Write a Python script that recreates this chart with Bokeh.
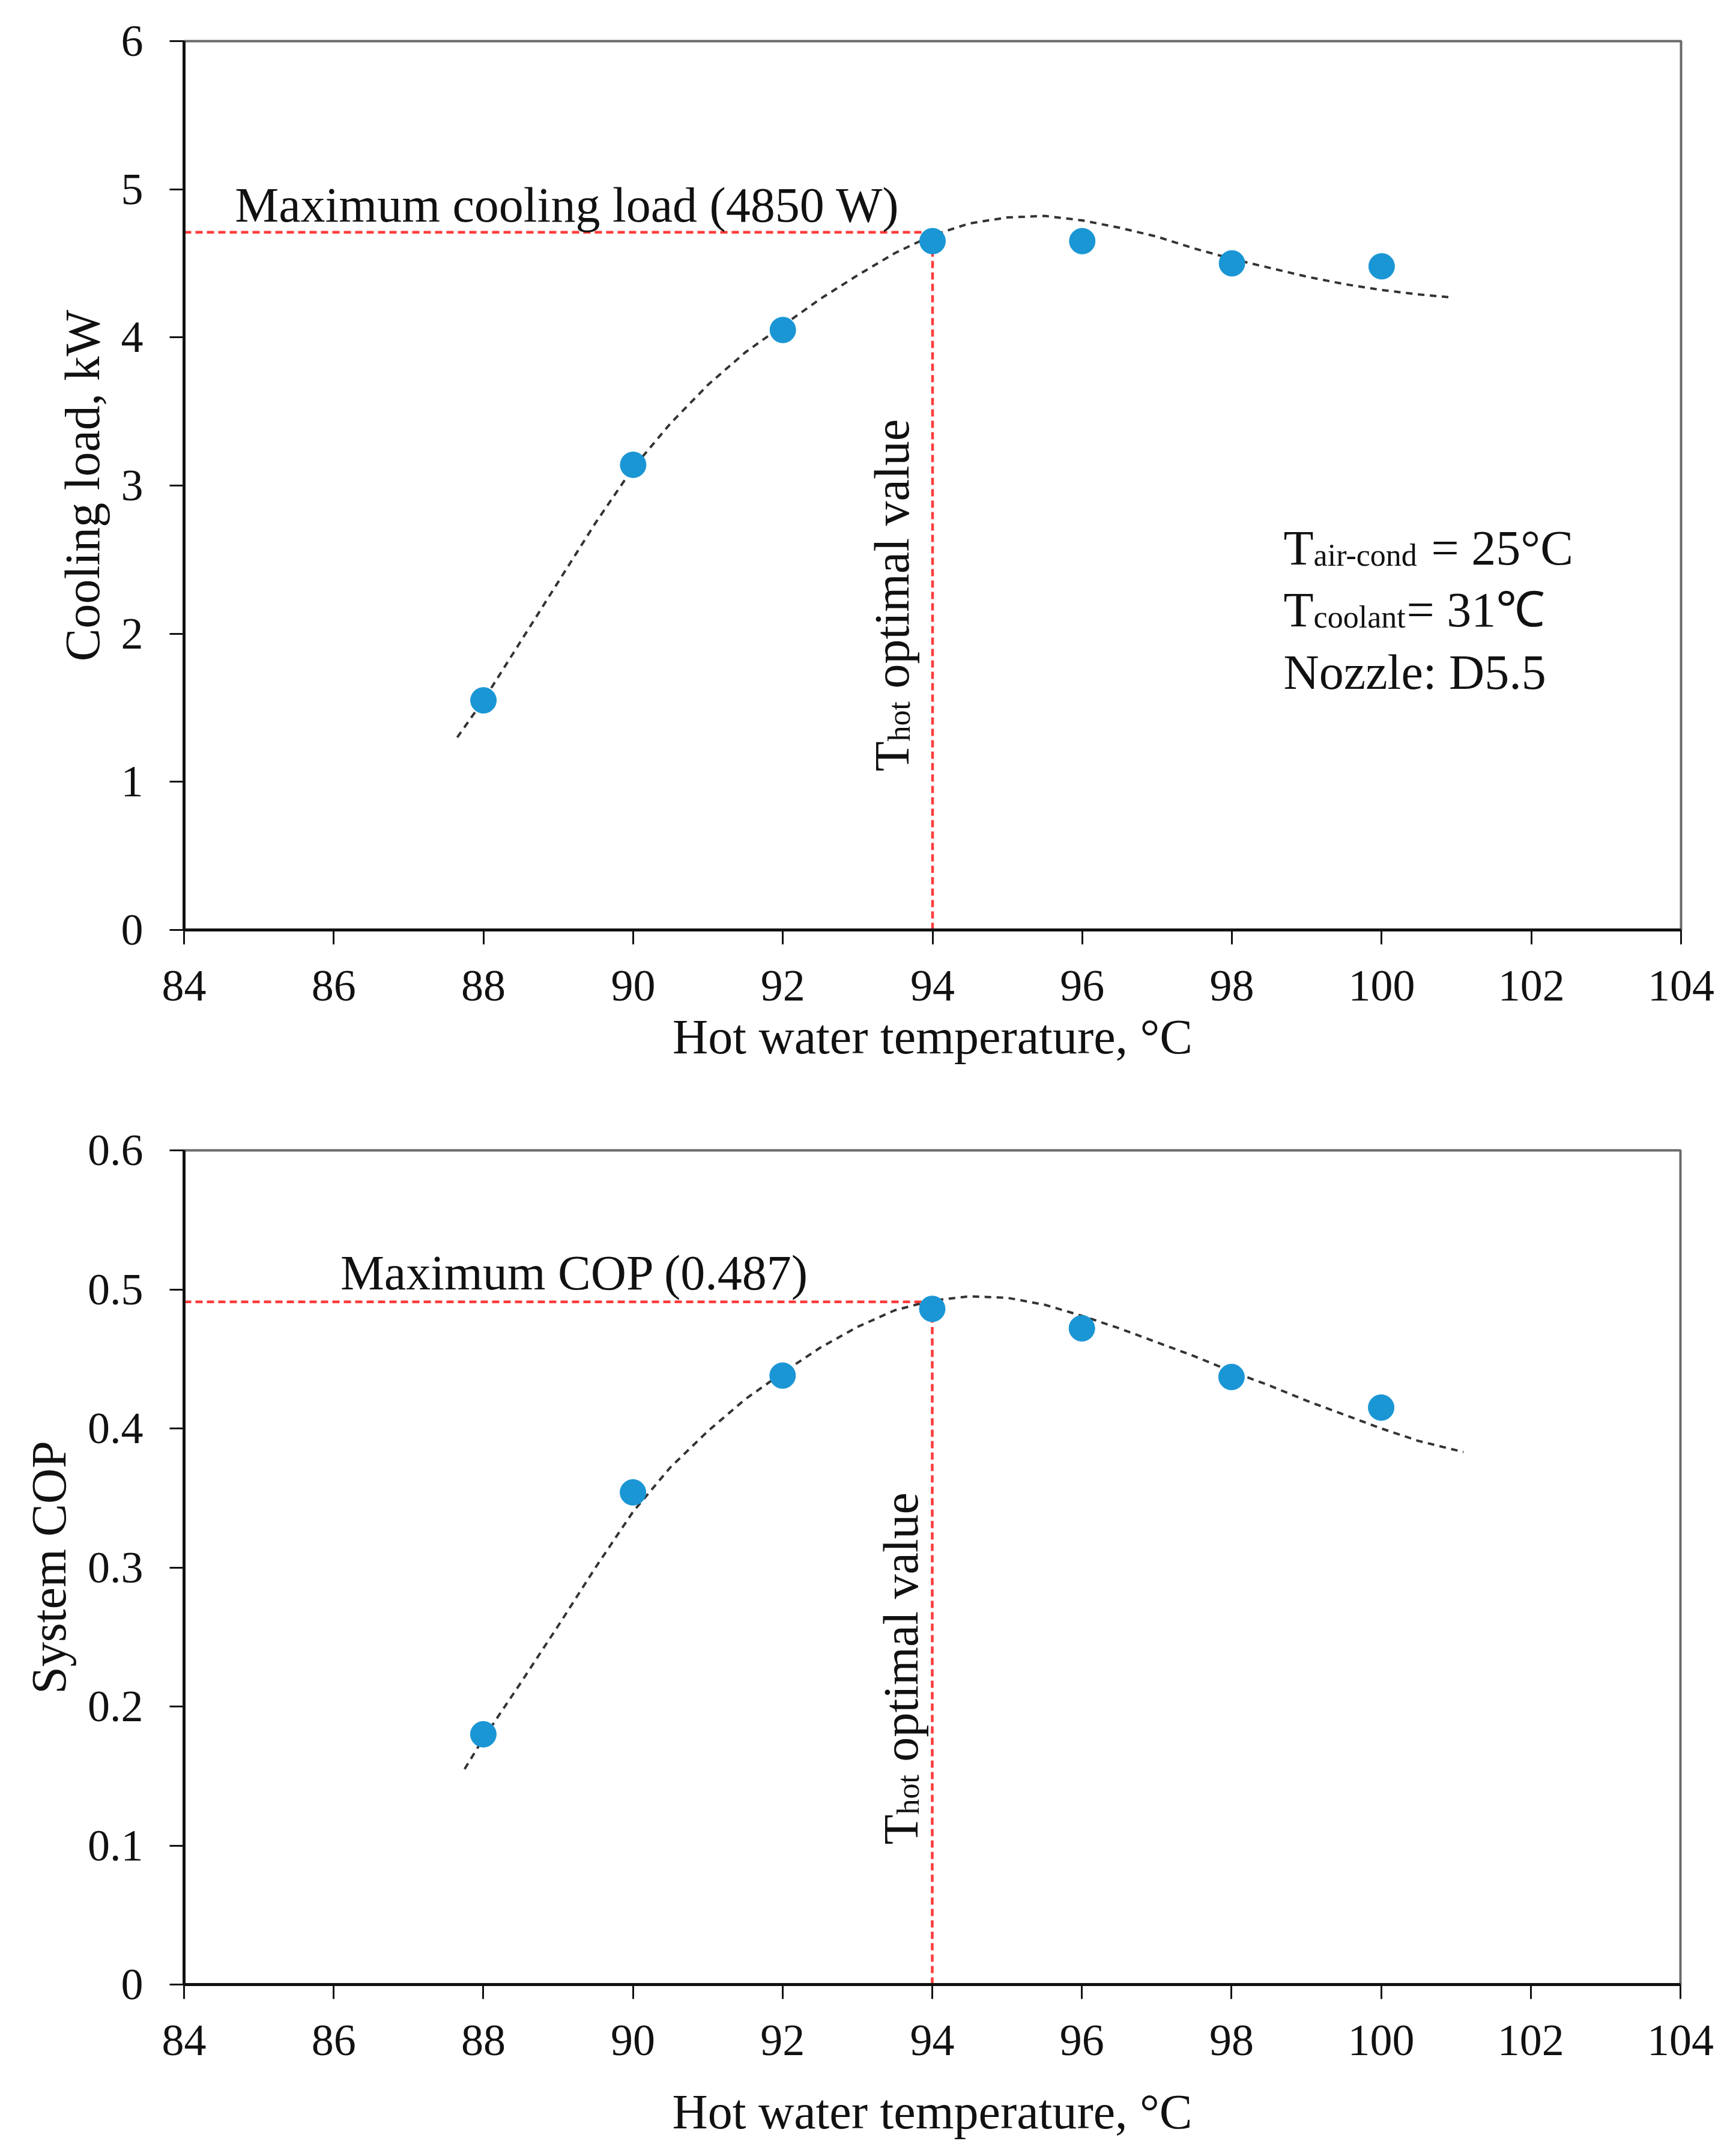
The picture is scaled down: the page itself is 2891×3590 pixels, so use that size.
import math

from bokeh.core.properties import value
from bokeh.embed import file_html
from bokeh.layouts import column
from bokeh.models import Range1d
from bokeh.plotting import figure
from bokeh.resources import INLINE

FONT = "Liberation Serif"
INK = "#111111"
BLUE = "#1a96d5"
RED = "#ff3b3b"

# measured points
temps = [88, 90, 92, 94, 96, 98, 100]
cooling_load = [1.55, 3.14, 4.05, 4.65, 4.65, 4.50, 4.48]   # kW
system_cop = [0.180, 0.354, 0.438, 0.486, 0.472, 0.437, 0.415]

# dashed trend lines
load_trend_t = [87.65, 88, 88.5, 89, 89.5, 90, 90.5, 91, 91.5, 92, 92.5, 93, 93.5, 94,
                94.5, 95, 95.5, 96, 96.5, 97, 97.5, 98, 98.5, 99, 99.5, 100, 100.5, 100.93]
load_trend = [1.30, 1.55, 1.95, 2.35, 2.75, 3.12, 3.42, 3.68, 3.90, 4.08, 4.26, 4.42, 4.57, 4.69,
              4.77, 4.81, 4.82, 4.79, 4.74, 4.68, 4.60, 4.53, 4.47, 4.41, 4.36, 4.32, 4.29, 4.27]

cop_trend_t = [87.75, 88, 88.5, 89, 89.5, 90, 90.5, 91, 91.5, 92, 92.5, 93, 93.5, 94,
               94.5, 95, 95.5, 96, 96.5, 97, 97.5, 98, 98.5, 99, 99.5, 100, 100.5, 101.1]
cop_trend = [0.155, 0.177, 0.217, 0.258, 0.300, 0.340, 0.372, 0.398, 0.421, 0.440, 0.458, 0.473, 0.485, 0.492,
             0.495, 0.494, 0.489, 0.481, 0.472, 0.462, 0.452, 0.441, 0.431, 0.420, 0.410, 0.400, 0.391, 0.383]

# optimum markers
t_opt = 94
load_opt = 4.71
cop_opt = 0.491

x_ticks = [84, 86, 88, 90, 92, 94, 96, 98, 100, 102, 104]
load_ticks = [0, 1, 2, 3, 4, 5, 6]
cop_ticks = [0, 0.1, 0.2, 0.3, 0.4, 0.5, 0.6]
cop_tick_labels = ["0", "0.1", "0.2", "0.3", "0.4", "0.5", "0.6"]


def make_fig(fw, fh, ymax, left, top, bottom, label_gap):
    p = figure(frame_width=fw, frame_height=fh, x_range=Range1d(84, 104), y_range=Range1d(0, ymax),
               output_backend="svg", toolbar_location=None,
               min_border_left=left, min_border_top=top, min_border_bottom=bottom, min_border_right=70)
    p.grid.visible = False
    p.outline_line_color = "#6a6a6a"
    p.outline_line_width = 4
    p.background_fill_color = "white"
    p.border_fill_color = "white"
    for ax in (p.xaxis[0], p.yaxis[0]):
        ax.axis_line_color = INK
        ax.axis_line_width = 5
        ax.major_tick_line_color = INK
        ax.major_tick_line_width = 3
        ax.major_tick_out = 24
        ax.major_tick_in = 0
        ax.minor_tick_line_color = None
        ax.major_label_text_font = FONT
        ax.major_label_text_font_size = "74px"
        ax.major_label_text_color = INK
        ax.axis_label_text_font = FONT
        ax.axis_label_text_font_size = "82px"
        ax.axis_label_text_font_style = "normal"
        ax.axis_label_text_color = INK
    p.xaxis.ticker = x_ticks
    p.xaxis.major_label_standoff = 44
    p.xaxis.axis_label = "Hot water temperature, °C"
    p.xaxis.axis_label_standoff = label_gap
    p.yaxis.major_label_standoff = 44
    p.yaxis.axis_label_standoff = 16
    return p


def rich_text(p, x, y, parts, kx, ky, vertical=False):
    # parts: (text, font px, advance px, subscript drop px)
    pos = 0
    for txt, size, adv, drop in parts:
        if vertical:
            px, py, ang = x + drop / kx, y + pos / ky, math.pi / 2
        else:
            px, py, ang = x + pos / kx, y - drop / ky, 0
        p.text([px], [py], text=[txt], angle=ang, text_font=value(FONT),
               text_font_size=f"{size}px", text_align="left", text_baseline="alphabetic",
               text_color=INK)
        pos += adv


def optimum_lines(p, yopt):
    p.line([84, t_opt], [yopt, yopt], line_color=RED, line_width=4.5, line_dash="12 7")
    p.line([t_opt, t_opt], [0, yopt], line_color=RED, line_width=4.5, line_dash="12 7")


# ---- top: cooling load
p1 = make_fig(2493, 1480, 6, 301, 68, 244, 12)
kx1, ky1 = 2493 / 20, 1480 / 6
p1.yaxis.ticker = load_ticks
p1.yaxis.axis_label = "Cooling load, kW"
optimum_lines(p1, load_opt)
p1.line(load_trend_t, load_trend, line_color="#333333", line_width=4, line_dash="11 9")
p1.scatter(temps, cooling_load, size=43, color=BLUE)
rich_text(p1, 84.68, 4.895, [("Maximum cooling load (4850 W)", 82, 0, 0)], kx1, ky1)
rich_text(p1, 93.46, 1.07, [("T", 82, 50, 0), ("hot", 52, 88, 12), ("optimal value", 82, 0, 0)],
          kx1, ky1, vertical=True)
rich_text(p1, 98.69, 2.58, [("T", 82, 50, 0), ("air-cond", 52, 196, 12), ("= 25°C", 82, 0, 0)], kx1, ky1)
rich_text(p1, 98.69, 2.16, [("T", 82, 50, 0), ("coolant", 52, 155, 12), ("= 31℃", 82, 0, 0)], kx1, ky1)
rich_text(p1, 98.69, 1.74, [("Nozzle: D5.5", 82, 0, 0)], kx1, ky1)

# ---- bottom: system COP
p2 = make_fig(2492, 1389, 0.6, 306, 123, 268, 46)
kx2, ky2 = 2492 / 20, 1389 / 0.6
p2.yaxis.ticker = cop_ticks
p2.yaxis.major_label_overrides = dict(zip(cop_ticks, cop_tick_labels))
p2.yaxis.axis_label = "System COP"
optimum_lines(p2, cop_opt)
p2.line(cop_trend_t, cop_trend, line_color="#333333", line_width=4, line_dash="11 9")
p2.scatter(temps, system_cop, size=43, color=BLUE)
rich_text(p2, 86.09, 0.512, [("Maximum COP (0.487)", 82, 0, 0)], kx2, ky2)
rich_text(p2, 93.58, 0.1006, [("T", 82, 50, 0), ("hot", 52, 88, 12), ("optimal value", 82, 0, 0)],
          kx2, ky2, vertical=True)

layout = column(p1, p2)
open("out.html", "w").write(file_html(layout, INLINE))
